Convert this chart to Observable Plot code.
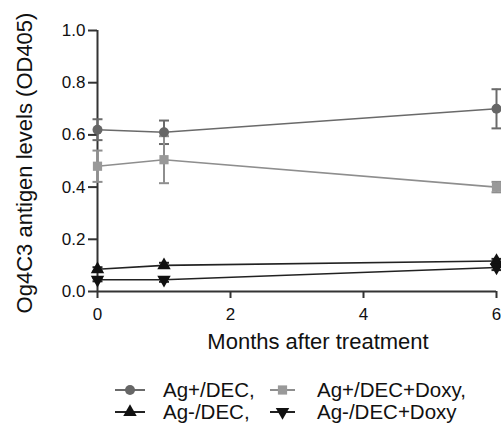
<!DOCTYPE html>
<html>
<head>
<meta charset="utf-8">
<script src="https://cdn.jsdelivr.net/npm/d3@7"></script>
<script src="https://cdn.jsdelivr.net/npm/@observablehq/plot@0.6"></script>
<style>
  html, body { margin: 0; padding: 0; background: white; }
  #wrap { position: relative; width: 501px; height: 427px; overflow: hidden; background: white;
          font-family: "Liberation Sans", Arial, sans-serif; }
  #legend { position: absolute; left: 0; top: 365px; }
</style>
</head>
<body>
<div id="wrap"><div id="chart"></div><div id="legend"></div></div>
<script>
// ---- data ----
const months = [0, 1, 6];
const xTicks = [0, 2, 4, 6];
const yTicks = [0, 0.2, 0.4, 0.6, 0.8, 1.0];

const seriesNames = ["Ag+/DEC", "Ag+/DEC+Doxy", "Ag-/DEC", "Ag-/DEC+Doxy"];
const agPosDec      = [0.62, 0.61, 0.70];
const agPosDecErr   = [0.04, 0.045, 0.075];
const agPosDoxy     = [0.48, 0.505, 0.40];
const agPosDoxyErr  = [0.06, 0.09, 0.02];
const agNegDec      = [0.085, 0.10, 0.117];
const agNegDecErr   = [0.008, 0.01, 0.008];
const agNegDoxy     = [0.045, 0.045, 0.092];
const agNegDoxyErr  = [0.006, 0.008, 0.01];

const xLabel = "Months after treatment";
const yLabel = "Og4C3 antigen levels (OD405)";
const legendLabels = ["Ag+/DEC,", "Ag+/DEC+Doxy,", "Ag-/DEC,", "Ag-/DEC+Doxy"];

// ---- styles (not data) ----
const styles = [
  {line: "#6a6a6a", fill: "#666", symbol: "circle", rotate: 0, r: 5},
  {line: "#8e8e8e", fill: "#999", symbol: "square", rotate: 0, r: 5.2},
  {line: "#222",    fill: "#111", symbol: "triangle", rotate: 0, r: 5},
  {line: "#222",    fill: "#111", symbol: "triangle", rotate: 180, r: 5}
];

const valueArrays = [agPosDec, agPosDoxy, agNegDec, agNegDoxy];
const errArrays = [agPosDecErr, agPosDoxyErr, agNegDecErr, agNegDoxyErr];

const tables = seriesNames.map((name, s) =>
  months.map((m, i) => ({series: name, month: m, value: valueArrays[s][i], err: errArrays[s][i]}))
);

const capSymbol = {
  draw(context, size) {
    const r = Math.sqrt(size / Math.PI);
    context.moveTo(-r, 0);
    context.lineTo(r, 0);
  }
};

const marks = [];
// axes
marks.push(Plot.axisX({ticks: xTicks, tickFormat: d3.format("d"), tickSize: 7, tickPadding: 9, label: null, stroke: "#333", strokeWidth: 2, fill: "#111"}));
marks.push(Plot.axisY({ticks: yTicks, tickSize: 9, tickPadding: 3, label: null, tickFormat: d3.format(".1f"), stroke: "#333", strokeWidth: 2, fill: "#111"}));
marks.push(Plot.ruleY([0], {stroke: "#333", strokeWidth: 2}));
marks.push(Plot.ruleX([0], {stroke: "#333", strokeWidth: 2}));

// lines
tables.forEach((t, s) => {
  marks.push(Plot.line(t, {x: "month", y: "value", stroke: styles[s].line, strokeWidth: 1.6}));
});
// error bars
tables.forEach((t, s) => {
  const c = styles[s].line;
  marks.push(Plot.ruleX(t, {x: "month", y1: d => d.value - d.err, y2: d => d.value + d.err, stroke: c, strokeWidth: 2}));
  marks.push(Plot.dot(t, {x: "month", y: d => d.value + d.err, symbol: capSymbol, r: 5, stroke: c, strokeWidth: 2}));
  marks.push(Plot.dot(t, {x: "month", y: d => d.value - d.err, symbol: capSymbol, r: 5, stroke: c, strokeWidth: 2}));
});
// markers
tables.forEach((t, s) => {
  const st = styles[s];
  marks.push(Plot.dot(t, {x: "month", y: "value", symbol: st.symbol, r: st.r, fill: st.fill, stroke: "none", rotate: st.rotate}));
});

// axis titles
marks.push(Plot.text([xLabel], {frameAnchor: "bottom", textAnchor: "middle", dx: 21, dy: 57, lineAnchor: "bottom", fontSize: 22, fill: "#111"}));
marks.push(Plot.text([yLabel], {frameAnchor: "left", textAnchor: "middle", lineAnchor: "middle", dx: -72.5, dy: 2, rotate: -90, fontSize: 22, fill: "#111"}));

const chart = Plot.plot({
  width: 501,
  height: 365,
  marginLeft: 97,
  marginRight: 5,
  marginTop: 30,
  marginBottom: 74,
  x: {domain: [0, 6]},
  y: {domain: [0, 1]},
  style: {fontFamily: "'Liberation Sans', Arial, sans-serif", fontSize: "17px", color: "#111", background: "white", overflow: "visible"},
  marks
});
document.getElementById("chart").appendChild(chart);

// ---- legend (below the plot) ----
const lg = d3.select("#legend").append("svg").attr("width", 501).attr("height", 62)
  .style("font-family", "'Liberation Sans', Arial, sans-serif");
const legendPos = [
  {sx0: 115, sx1: 145, tx: 163, y: 25},
  {sx0: 270, sx1: 295, tx: 317, y: 25},
  {sx0: 115, sx1: 145, tx: 163, y: 47},
  {sx0: 270, sx1: 295, tx: 317, y: 47}
];
const symMap = {circle: d3.symbolCircle, square: d3.symbolSquare, triangle: d3.symbolTriangle};
legendLabels.forEach((lab, s) => {
  const p = legendPos[s], st = styles[s];
  const g = lg.append("g");
  g.append("line").attr("x1", p.sx0).attr("x2", p.sx1).attr("y1", p.y).attr("y2", p.y)
    .attr("stroke", st.line).attr("stroke-width", 2);
  const cx = (p.sx0 + p.sx1) / 2;
  g.append("path").attr("d", d3.symbol(symMap[st.symbol], Math.PI * st.r * st.r)())
    .attr("transform", `translate(${cx},${p.y}) rotate(${st.rotate})`)
    .attr("fill", st.fill);
  g.append("text").attr("x", p.tx).attr("y", p.y).attr("dy", "0.35em")
    .attr("font-size", 20.5).attr("fill", "#111").text(lab);
});
</script>
</body>
</html>
